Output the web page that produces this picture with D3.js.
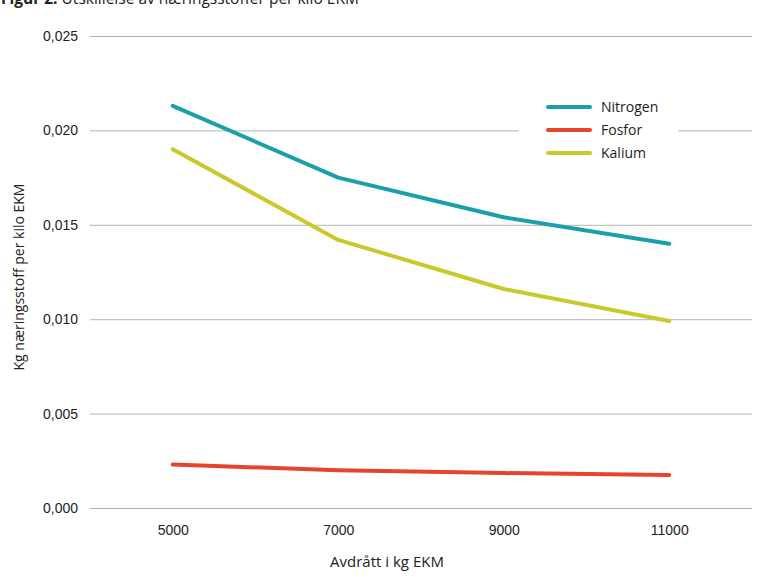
<!DOCTYPE html>
<html>
<head>
<meta charset="utf-8">
<script src="https://cdn.jsdelivr.net/npm/d3@7"></script>
<style>
  html, body { margin: 0; padding: 0; background: #fff; }
  svg { display: block; font-family: "Open Sans", "Noto Sans", sans-serif; }
</style>
</head>
<body>
<svg id="chart" width="757" height="577"></svg>
<script>
// Avdrått (kg EKM) and nutrient excretion per kilo EKM
const categories = ["5000", "7000", "9000", "11000"];
const nitrogen = [0.0213, 0.0175, 0.0154, 0.0140];
const fosfor   = [0.0023, 0.0020, 0.00185, 0.00175];
const kalium   = [0.0190, 0.0142, 0.0116, 0.0099];
const seriesNames = ["Nitrogen", "Fosfor", "Kalium"];
const seriesColors = ["#1a9fab", "#e8432b", "#c9c82c"];
const yTicks = [0, 0.005, 0.010, 0.015, 0.020, 0.025];

const series = [nitrogen, fosfor, kalium].map((v, i) => ({
  name: seriesNames[i], color: seriesColors[i], values: v
}));

const svg = d3.select("#chart");
const m = { left: 90, right: 752, top: 36, bottom: 508 };

const x = d3.scalePoint().domain(categories).range([m.left, m.right]).padding(0.5);
const y = d3.scaleLinear().domain([0, 0.025]).range([m.bottom, m.top]);

const fmt = d => d3.format(".3f")(d).replace(".", ",");

// figure title, sitting at the very top edge
const title = svg.append("text").attr("x", 1).attr("y", 4)
  .attr("font-size", 15.5).attr("fill", "#222");
title.append("tspan").attr("font-weight", "bold").text("Figur 2.");
title.append("tspan").text(" Utskillelse av næringsstoffer per kilo EKM");

// y axis with gridlines
const yAxis = svg.append("g").attr("transform", `translate(${m.left},0)`)
  .call(d3.axisLeft(y).tickValues(yTicks).tickFormat(fmt)
    .tickSize(-(m.right - m.left)).tickPadding(12));
yAxis.select(".domain").remove();
yAxis.selectAll(".tick line").attr("stroke", "#b4b4b4").attr("stroke-width", 1);
yAxis.selectAll(".tick text").attr("font-size", 14).attr("fill", "#222");

// x axis labels
const xAxis = svg.append("g").attr("transform", `translate(0,${m.bottom})`)
  .call(d3.axisBottom(x).tickSize(0).tickPadding(17));
xAxis.select(".domain").remove();
xAxis.selectAll(".tick text").attr("font-size", 14).attr("fill", "#222")
  .attr("dy", "0.71em");

// axis titles
svg.append("text").attr("x", 387).attr("y", 567)
  .attr("text-anchor", "middle").attr("font-size", 15).attr("fill", "#222")
  .text("Avdrått i kg EKM");
svg.append("text")
  .attr("transform", `translate(24,277) rotate(-90)`)
  .attr("text-anchor", "middle").attr("font-size", 14).attr("fill", "#222")
  .text("Kg næringsstoff per kilo EKM");

// lines
const line = d3.line().x((d, i) => x(categories[i])).y(d => y(d));
svg.append("g").selectAll("path").data(series).join("path")
  .attr("d", d => line(d.values))
  .attr("fill", "none").attr("stroke", d => d.color)
  .attr("stroke-width", 4).attr("stroke-linecap", "round").attr("stroke-linejoin", "round");

// legend
const lg = svg.append("g");
lg.append("rect").attr("x", 519).attr("y", 92).attr("width", 159).attr("height", 74).attr("fill", "#fff");
const items = lg.selectAll("g").data(series).join("g")
  .attr("transform", (d, i) => `translate(0,${107 + i * 23})`);
items.append("line").attr("x1", 548).attr("x2", 590)
  .attr("stroke", d => d.color).attr("stroke-width", 4).attr("stroke-linecap", "round");
items.append("text").attr("x", 601).attr("y", 4.5).attr("font-size", 14).attr("fill", "#222")
  .text(d => d.name);
</script>
</body>
</html>
